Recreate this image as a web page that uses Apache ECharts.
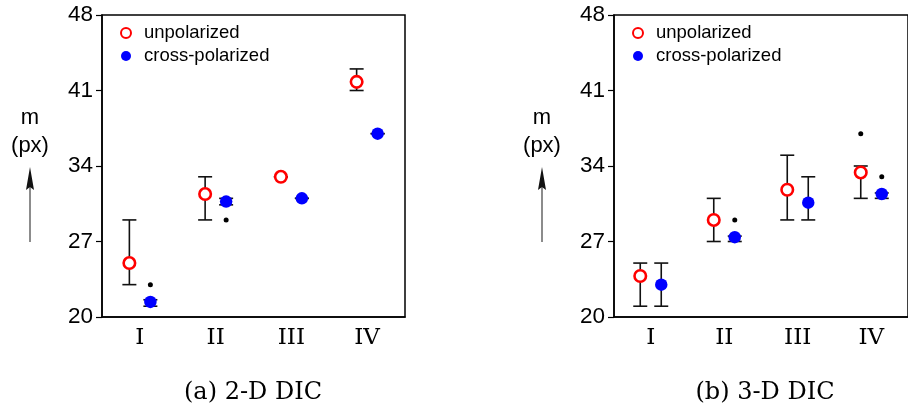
<!DOCTYPE html>
<html>
<head>
<meta charset="utf-8">
<script src="https://cdn.jsdelivr.net/npm/echarts@6/dist/echarts.min.js"></script>
<style>
  html, body { margin: 0; padding: 0; background: #fff; }
  #chart { width: 908px; height: 409px; }
</style>
</head>
<body>
<div id="chart"></div>
<script>
// Groups on the horizontal axis and the shared vertical scale
const groups = ['I', 'II', 'III', 'IV'];
const yMin = 20;
const yMax = 48;
const yStep = 7;

// (a) 2-D DIC
const dic2dUnpol      = [25.0, 31.4, 33.0, 41.8];
const dic2dUnpolLow   = [23.0, 29.0, 33.0, 41.0];
const dic2dUnpolHigh  = [29.0, 33.0, 33.0, 43.0];
const dic2dCross      = [21.4, 30.7, 31.0, 37.0];
const dic2dCrossLow   = [21.0, 30.4, 31.0, 37.0];
const dic2dCrossHigh  = [21.6, 31.0, 31.0, 37.0];
const dic2dUnpolOutliers = [];
const dic2dCrossOutliers = [[0, 23.0], [1, 29.0]];

// (b) 3-D DIC
const dic3dUnpol      = [23.8, 29.0, 31.8, 33.4];
const dic3dUnpolLow   = [21.0, 27.0, 29.0, 31.0];
const dic3dUnpolHigh  = [25.0, 31.0, 35.0, 34.0];
const dic3dCross      = [23.0, 27.4, 30.6, 31.4];
const dic3dCrossLow   = [21.0, 27.0, 29.0, 31.0];
const dic3dCrossHigh  = [25.0, 27.5, 33.0, 31.5];
const dic3dUnpolOutliers = [[3, 37.0]];
const dic3dCrossOutliers = [[1, 29.0], [3, 33.0]];

const captions = ['(a) 2-D DIC', '(b) 3-D DIC'];
const seriesNames = ['unpolarized', 'cross-polarized'];

const SANS = 'Liberation Sans, Arial, Helvetica, sans-serif';
const SERIF = 'DejaVu Serif, Liberation Serif, serif';
const SHIFT = 10.5;   // horizontal separation of the two series within a group

const unpolStyle = { color: '#ffffff', borderColor: '#ff0000', borderWidth: 2.6, opacity: 1 };
const crossStyle = { color: '#0000ff', opacity: 1 };

function errorBars(idx, lows, highs, offset) {
  return {
    type: 'custom',
    xAxisIndex: idx, yAxisIndex: idx,
    z: 2, silent: true,
    data: lows.map((l, i) => [i, l, highs[i]]),
    renderItem(params, api) {
      const lo = api.coord([api.value(0), api.value(1)]);
      const hi = api.coord([api.value(0), api.value(2)]);
      const x = lo[0] + offset;
      const hw = 7;
      const style = { stroke: '#111', lineWidth: 1.6 };
      return {
        type: 'group',
        children: [
          { type: 'line', shape: { x1: x, y1: lo[1], x2: x, y2: hi[1] }, style },
          { type: 'line', shape: { x1: x - hw, y1: lo[1], x2: x + hw, y2: lo[1] }, style },
          { type: 'line', shape: { x1: x - hw, y1: hi[1], x2: x + hw, y2: hi[1] }, style }
        ]
      };
    }
  };
}

function markers(idx, name, values, offset, style, size) {
  return {
    type: 'scatter', name,
    xAxisIndex: idx, yAxisIndex: idx,
    z: 4, silent: true,
    symbol: 'circle', symbolSize: size,
    symbolOffset: [offset, 0],
    itemStyle: style,
    data: values.map((v, i) => [i, v])
  };
}

function outliers(idx, points, offset) {
  return {
    type: 'scatter',
    xAxisIndex: idx, yAxisIndex: idx,
    z: 3, silent: true,
    symbol: 'circle', symbolSize: 5,
    symbolOffset: [offset, 0],
    itemStyle: { color: '#000', opacity: 1 },
    data: points
  };
}

const panels = [
  { left: 102, unpol: dic2dUnpol, unpolLow: dic2dUnpolLow, unpolHigh: dic2dUnpolHigh,
    cross: dic2dCross, crossLow: dic2dCrossLow, crossHigh: dic2dCrossHigh,
    unpolOut: dic2dUnpolOutliers, crossOut: dic2dCrossOutliers, axisX: 30, capX: 253 },
  { left: 614, unpol: dic3dUnpol, unpolLow: dic3dUnpolLow, unpolHigh: dic3dUnpolHigh,
    cross: dic3dCross, crossLow: dic3dCrossLow, crossHigh: dic3dCrossHigh,
    unpolOut: dic3dUnpolOutliers, crossOut: dic3dCrossOutliers, axisX: 542, capX: 765 }
];

const grid = [], xAxis = [], yAxis = [], series = [], legend = [], graphic = [];

panels.forEach((p, k) => {
  grid.push({ left: p.left, top: 15, width: 303, height: 302, show: true,
              borderColor: '#000', borderWidth: 1.5, backgroundColor: 'transparent' });
  xAxis.push({
    type: 'category', gridIndex: k, data: groups, boundaryGap: true,
    axisLine: { lineStyle: { color: '#000', width: 1.5 } },
    axisTick: { show: false },
    axisLabel: { color: '#000', fontFamily: SERIF, fontSize: 23, margin: 10 },
    splitLine: { show: false }
  });
  yAxis.push({
    type: 'value', gridIndex: k, min: yMin, max: yMax, interval: yStep,
    axisLine: { show: true, lineStyle: { color: '#000', width: 1.5 } },
    axisTick: { show: true, length: 6, lineStyle: { color: '#000', width: 1.2 } },
    axisLabel: { color: '#000', fontFamily: SANS, fontSize: 22.5, margin: 9 },
    splitLine: { show: false }
  });

  series.push(errorBars(k, p.unpolLow, p.unpolHigh, -SHIFT));
  series.push(errorBars(k, p.crossLow, p.crossHigh, SHIFT));
  series.push(outliers(k, p.unpolOut, -SHIFT));
  series.push(outliers(k, p.crossOut, SHIFT));
  series.push(markers(k, seriesNames[0], p.unpol, -SHIFT, unpolStyle, 11.5));
  series.push(markers(k, seriesNames[1], p.cross, SHIFT, crossStyle, 12.5));

  legend.push({
    left: p.left + 13, top: 18, orient: 'vertical',
    data: seriesNames, selectedMode: false,
    icon: 'circle', itemWidth: 10, itemHeight: 10, itemGap: 3,
    itemStyle: { opacity: 1 },
    textStyle: { color: '#000', fontFamily: SANS, fontSize: 18.5, lineHeight: 20, padding: [0, 0, 0, 8] }
  });

  // vertical axis label with upward arrow
  graphic.push({ type: 'text', x: p.axisX, y: 104,
    style: { text: 'm\n(px)', fill: '#000', font: '22px ' + SANS,
             align: 'center', verticalAlign: 'top', lineHeight: 28 } });
  graphic.push({ type: 'line', shape: { x1: p.axisX, y1: 242, x2: p.axisX, y2: 186 },
    style: { stroke: '#666', lineWidth: 1.5 } });
  graphic.push({ type: 'polygon',
    shape: { points: [[p.axisX, 167], [p.axisX - 4, 190], [p.axisX, 187], [p.axisX + 4, 190]] },
    style: { fill: '#111' } });

  graphic.push({ type: 'text', x: p.capX, y: 393,
    style: { text: captions[k], fill: '#000', font: '24px ' + SERIF,
             align: 'center', verticalAlign: 'middle' } });
});

const chart = echarts.init(document.getElementById('chart'), null, { renderer: 'canvas' });
chart.setOption({
  animation: false,
  backgroundColor: '#fff',
  grid, xAxis, yAxis, series, legend, graphic
});
</script>
</body>
</html>
